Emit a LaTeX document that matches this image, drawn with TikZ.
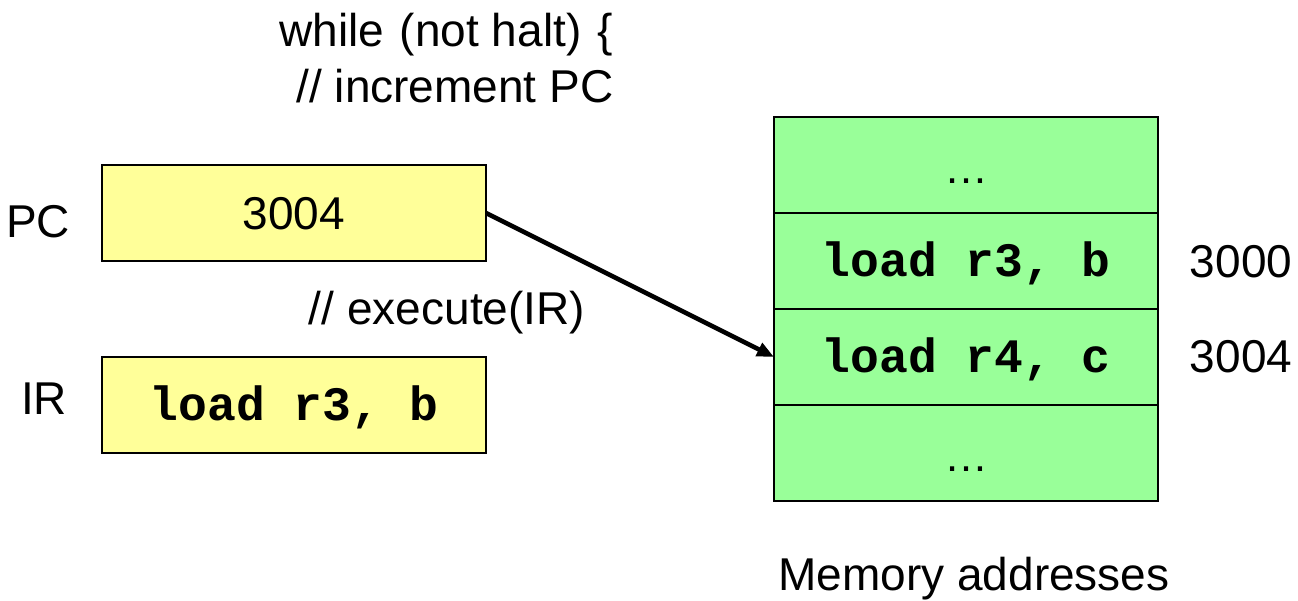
\documentclass[tikz,border=0pt]{standalone}
\usepackage{fontspec}
\setmainfont{Liberation Sans}
\setmonofont{Liberation Mono}
\usetikzlibrary{arrows.meta}
\definecolor{regyellow}{HTML}{FFFF99}
\definecolor{memgreen}{HTML}{99FF99}
\begin{document}
\begin{tikzpicture}[x=1pt,y=-1pt,
  box/.style={draw,line width=2pt,minimum width=384pt,minimum height=96pt,inner sep=0pt,outer sep=0pt},
  reg/.style={box,fill=regyellow},
  cell/.style={box,fill=memgreen},
  lbl/.style={font=\fontsize{46}{52}\selectfont,inner sep=0pt},
  code/.style={font=\fontsize{48}{54}\selectfont\ttfamily\bfseries,text height=30pt,text depth=0pt},
  dots/.style={font=\fontsize{44}{48}\selectfont,text height=36pt,text depth=0pt},
  ptr/.style={line width=4.5pt,-{Triangle[length=17pt,width=14pt]}}]
\useasboundingbox (0,0) rectangle (1298,600);
% loop text
\node[lbl,anchor=base] (while) at (446,46) {while\hspace{3pt} (not halt)\hspace{3pt} \{};
\node[lbl,anchor=base] (inc) at (455,102) {// increment PC};
\node[lbl,anchor=base] (exec) at (447,324) {// execute(IR)};
% registers
\node[reg,font=\fontsize{46}{52}\selectfont,text height=33pt,text depth=0pt] (pc) at (294,213) {3004};
\node[reg,code] (ir) at (294,405) {load r3, b};
\node[lbl,anchor=base] (pclbl) at (38,237) {PC};
\node[lbl,anchor=base] (irlbl) at (44,414) {IR};
% memory
\node[cell,dots] (m1) at (966,165) {…};
\node[cell,code] (m2) at (966,261) {load r3, b};
\node[cell,code] (m3) at (966,357) {load r4, c};
\node[cell,dots] (m4) at (966,453) {…};
\node[lbl,anchor=base] (a1) at (1241,277) {3000};
\node[lbl,anchor=base] (a2) at (1241,372) {3004};
\node[lbl,anchor=base] (memlbl) at (974,590) {Memory addresses};
% pointer
\draw[ptr] (pc.east) -- (m3.west);
\end{tikzpicture}
\end{document}
